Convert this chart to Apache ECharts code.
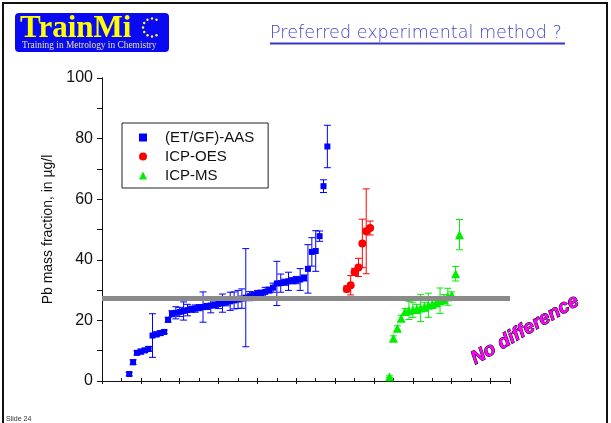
<!DOCTYPE html>
<html>
<head>
<meta charset="utf-8">
<script src="https://cdn.jsdelivr.net/npm/echarts@6/dist/echarts.min.js"></script>
<style>
  html, body { margin: 0; padding: 0; background: #ffffff; }
  #chart { width: 611px; height: 423px; }
</style>
</head>
<body>
<div id="chart"></div>
<script>
// Lab results for Pb, sorted within each technique (x = lab position, y = value, err = half-width)
const seriesNames = ['(ET/GF)-AAS', 'ICP-OES', 'ICP-MS'];

const aasX = [7,8,9,10,11,12,13,14,15,16,17,18,19,20,21,22,23,24,25,26,27,28,29,30,31,32,33,34,35,36,37,38,39,40,41,42,43,44,45,46,47,48,49,50,51,52,53,54,55,56,57,58];
const aasVal = [2.3,6.2,9.3,9.7,10.1,10.6,15.0,15.4,15.8,16.2,20.2,22.2,22.5,22.8,23.1,23.4,23.7,23.9,24.2,24.4,24.6,24.9,25.1,25.4,25.7,26.0,26.3,26.6,26.9,27.2,27.5,28.0,28.4,28.7,29.0,29.4,30.0,30.8,32.2,32.3,32.6,32.9,33.1,33.3,33.5,34.0,37.0,42.6,42.9,47.8,64.3,77.4];
const aasErr = [0.6,0.8,0.7,0.8,0.7,0.8,7.2,0.8,0.8,0.6,0.8,1.0,2.0,1.5,3.0,1.9,1.0,1.2,1.0,5.0,1.0,2.4,1.0,1.5,3.0,1.2,3.0,2.8,3.0,3.2,16.2,1.5,1.0,1.2,1.0,1.5,1.0,1.5,7.3,3.0,1.0,3.0,1.0,1.2,3.6,1.0,8.0,4.7,6.7,1.7,2.1,7.0];

const oesX = [63,64,65,66,67,68,69];
const oesVal = [30.4,31.6,36.0,37.5,45.4,49.4,50.5];
const oesErr = [1.0,3.2,1.2,3.0,8.0,14.0,2.3];

const msX = [74,75,76,77,78,79,80,81,82,83,84,85,86,87,88,89,90,91,92];
const msVal = [1.4,14.1,17.4,20.7,22.9,23.3,23.5,23.8,24.1,24.5,25.0,25.4,25.9,26.5,27.0,27.8,28.4,35.4,48.3];
const msErr = [0.3,0.8,0.8,1.0,1.0,3.0,2.5,1.5,4.5,1.5,4.0,1.5,1.5,4.2,1.5,2.8,1.0,2.4,5.0];

// certified / reference level
const referenceLevel = 27.2;

const yTickLabels = [0, 20, 40, 60, 80, 100];

const colors = { aas: '#0000ff', oes: '#ff0000', ms: '#00ee00' };

function points(xs, vs) { return xs.map((x, i) => [x, vs[i]]); }
function bars(xs, vs, es) { return xs.map((x, i) => [x, vs[i] - es[i], vs[i] + es[i]]); }

function errorBar(color) {
  return function (params, api) {
    const x = api.value(0);
    const lo = api.coord([x, api.value(1)]);
    const hi = api.coord([x, api.value(2)]);
    const w = 3.5;
    const st = { stroke: color, lineWidth: 1 };
    return {
      type: 'group',
      children: [
        { type: 'line', shape: { x1: lo[0], y1: lo[1], x2: hi[0], y2: hi[1] }, style: st },
        { type: 'line', shape: { x1: lo[0] - w, y1: lo[1], x2: lo[0] + w, y2: lo[1] }, style: st },
        { type: 'line', shape: { x1: hi[0] - w, y1: hi[1], x2: hi[0] + w, y2: hi[1] }, style: st }
      ]
    };
  };
}

function errSeries(id, data, color) {
  return {
    name: id, type: 'custom', renderItem: errorBar(color), data: data,
    itemStyle: { color: color },
    encode: { x: 0, y: [1, 2] }, z: 2, silent: true
  };
}

// yellow ring of stars on the logo (open on the right, forming a "C")
const ring = [];
for (let k = 0; k < 12; k++) {
  const a = (k / 12) * Math.PI * 2;
  if (Math.cos(a) > 0.8) continue;
  ring.push({
    type: 'circle', shape: { cx: 152 + 9 * Math.cos(a), cy: 27.5 + 9 * Math.sin(a), r: 1.2 },
    style: { fill: '#ffff40' }, z: 12
  });
}

const axisLineStyle = { color: '#111', width: 1 };
const font = "'Liberation Sans', Arial, sans-serif";

const chart = echarts.init(document.getElementById('chart'), null, { renderer: 'canvas' });
chart.setOption({
  animation: false,
  backgroundColor: '#ffffff',
  grid: { left: 102, right: 101, top: 78, bottom: 42 },
  legend: {
    data: seriesNames,
    orient: 'vertical',
    left: 122, top: 123,
    padding: [7, 14, 5, 17],
    itemGap: 4,
    itemWidth: 8, itemHeight: 8,
    borderColor: '#222', borderWidth: 1,
    textStyle: { fontFamily: font, fontSize: 15, color: '#111', lineHeight: 15, padding: [0, 0, 0, 13] },
    selectedMode: false
  },
  xAxis: [
    {
      type: 'value', position: 'bottom', min: 0, max: 105, interval: 5,
      axisLine: { lineStyle: axisLineStyle },
      axisTick: { inside: true, length: 3, lineStyle: axisLineStyle },
      axisLabel: { show: false }, splitLine: { show: false }
    },
    {
      type: 'value', position: 'top', min: 0, max: 105, interval: 10,
      axisLine: { lineStyle: axisLineStyle },
      axisTick: { inside: true, length: 3, lineStyle: axisLineStyle },
      axisLabel: { show: false }, splitLine: { show: false }
    }
  ],
  yAxis: [
    {
      type: 'value', position: 'left', min: 0, max: 100, interval: 10,
      name: 'Pb mass fraction, in µg/l', nameLocation: 'middle', nameGap: 45,
      nameTextStyle: { fontFamily: font, fontSize: 14, color: '#111' },
      axisLine: { lineStyle: axisLineStyle },
      axisTick: { inside: false, length: 5, lineStyle: axisLineStyle },
      axisLabel: {
        margin: 9, fontFamily: font, fontSize: 16, color: '#111',
        formatter: v => (yTickLabels.indexOf(v) >= 0 ? String(v) : '')
      },
      splitLine: { show: false }
    },
    {
      type: 'value', position: 'right', min: 0, max: 100, interval: 10,
      axisLine: { lineStyle: axisLineStyle },
      axisTick: { inside: true, length: 4, lineStyle: axisLineStyle },
      axisLabel: { show: false }, splitLine: { show: false }
    }
  ],
  series: [
    errSeries('aas-err', bars(aasX, aasVal, aasErr), colors.aas),
    errSeries('oes-err', bars(oesX, oesVal, oesErr), colors.oes),
    errSeries('ms-err', bars(msX, msVal, msErr), colors.ms),
    {
      name: seriesNames[0], type: 'scatter', symbol: 'rect', symbolSize: 6,
      data: points(aasX, aasVal), itemStyle: { color: colors.aas, opacity: 1 }, z: 3
    },
    {
      name: seriesNames[1], type: 'scatter', symbol: 'circle', symbolSize: 8,
      data: points(oesX, oesVal), itemStyle: { color: colors.oes, opacity: 1 }, z: 3
    },
    {
      name: seriesNames[2], type: 'scatter', symbol: 'triangle', symbolSize: 9,
      data: points(msX, msVal), itemStyle: { color: colors.ms, opacity: 1 }, z: 3
    },
    {
      name: 'reference', type: 'line', data: [], z: 5,
      markLine: {
        silent: true, symbol: 'none', animation: false,
        label: { show: false },
        lineStyle: { color: '#8a8a8a', width: 5, type: 'solid' },
        data: [{ yAxis: referenceLevel }]
      }
    }
  ],
  graphic: [
    // slide frame
    { type: 'rect', shape: { x: 3, y: 3, width: 604, height: 440 }, style: { fill: null, stroke: '#111', lineWidth: 2 }, z: 1 },
    // logo
    { type: 'rect', shape: { x: 15, y: 13, width: 154, height: 39, r: 4 }, style: { fill: '#0a0af2' }, z: 10 },
    { type: 'text', x: 20, y: 28.5, style: { text: 'TrainMi', font: "bold 31px 'Liberation Serif', 'Times New Roman', serif", fill: '#ffff00', verticalAlign: 'middle', textVerticalAlign: 'middle' }, z: 11 },
    ...ring,
    { type: 'text', x: 22, y: 45.5, style: { text: 'Training in Metrology in Chemistry', font: "9.4px 'Liberation Serif', 'Times New Roman', serif", fill: '#e2e29c', textVerticalAlign: 'middle', verticalAlign: 'middle' }, z: 11 },
    // slide title
    { type: 'text', x: 270, y: 33, style: { text: 'Preferred experimental method ?', font: "200 17.6px 'DejaVu Sans', sans-serif", fill: '#4444c8', textVerticalAlign: 'middle', verticalAlign: 'middle' }, z: 10 },
    { type: 'rect', shape: { x: 270, y: 42.5, width: 295, height: 2 }, style: { fill: '#3535cc' }, z: 10 },
    // annotation
    { type: 'text', x: 525, y: 330, rotation: 30 * Math.PI / 180,
      style: { text: 'No difference', font: "italic bold 19px 'Liberation Sans', Arial, sans-serif", fill: '#ff00ff', stroke: '#000', lineWidth: 1, align: 'center', verticalAlign: 'middle', textAlign: 'center', textVerticalAlign: 'middle' }, z: 20 },
    // footer
    { type: 'text', x: 6, y: 419, style: { text: 'Slide 24', font: "7px 'Liberation Sans', Arial, sans-serif", fill: '#333', verticalAlign: 'middle', textVerticalAlign: 'middle' }, z: 10 }
  ]
});
</script>
</body>
</html>
